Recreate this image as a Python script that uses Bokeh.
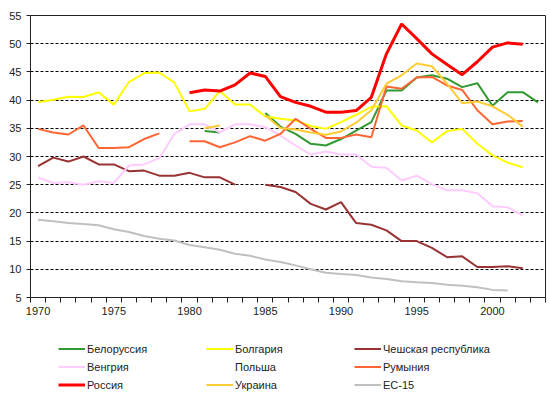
import numpy as np
from bokeh.plotting import figure
from bokeh.layouts import column
from bokeh.models import Range1d, FixedTicker, Legend, LegendItem, ColumnDataSource
from bokeh.embed import file_html
from bokeh.resources import INLINE

nan = np.nan
years = list(range(1970, 2004))

belarus = [nan]*11 + [34.5, 34.25, nan, nan, 37.7, 35.3, 34.0, 32.25, 31.95, 33.1, 34.6, 36.1,
                      41.7, 41.7, 44.0, 44.4, 43.8, 42.3, 43.0, 39.0, 41.4, 41.4, 39.6]
bulgaria = [39.6, 40.05, 40.6, 40.55, 41.4, 39.2, 43.2, 44.8, 44.9, 43.1,
            38.0, 38.45, 41.6, 39.2, 39.2, 37.1, 36.7, 36.4, 35.4, 34.9,
            36.1, 37.4, 38.8, 38.9, 35.5, 34.6, 32.5, 34.5, 34.9, 32.25,
            30.2, 28.9, 28.1, nan]
czech = [28.3, 29.8, 29.1, 30.0, 28.6, 28.6, 27.4, 27.5, 26.6, 26.6,
         27.1, 26.3, 26.3, 25.0, nan, 25.0, 24.6, 23.7, 21.6, 20.6,
         21.9, 18.2, 17.9, 16.9, 15.0, 15.0, 13.8, 12.15, 12.3, 10.4,
         10.4, 10.55, 10.2, nan]
hungary = [26.3, 25.3, 25.45, 25.0, 25.6, 25.3, 28.4, 28.6, 29.7, 34.0,
           35.7, 35.7, 34.3, 35.7, 35.7, 35.2, 33.7, 31.95, 30.35, 30.9,
           30.35, 30.35, 28.2, 28.0, 25.75, 26.6, 25.1, 24.0, 24.0, 23.5,
           21.2, 21.0, 19.55, nan]
poland = [nan]*34
romania = [34.9, 34.25, 33.9, 35.5, 31.5, 31.5, 31.65, 33.1, 34.1, nan,
           32.7, 32.7, 31.65, 32.5, 33.6, 32.8, 34.0, 36.7, 34.9, 33.3,
           33.3, 33.9, 33.4, 42.4, 42.0, 44.0, 44.1, 42.6, 41.8, 38.2,
           35.7, 36.2, 36.3, nan]
russia = [nan]*10 + [41.3, 41.8, 41.6, 42.7, 44.8, 44.2, 40.6, 39.6, 38.9, 37.85,
                     37.85, 38.15, 40.5, 48.2, 53.5, 50.9, 48.2, 46.3, 44.5, 46.8,
                     49.4, 50.15, 49.9, nan]
ukraine = [nan]*11 + [35.0, 35.5, nan, nan, 37.3, 35.05, 34.8, 34.25, 33.85,
                      34.45, 36.0, 38.2, 42.9, 44.4, 46.5, 46.0, 42.9, 39.45, 39.75,
                      38.9, 37.4, 35.3, nan]
eu15 = [18.8, 18.5, 18.2, 18.05, 17.8, 17.1, 16.6, 15.9, 15.4, 15.1,
        14.3, 13.9, 13.45, 12.75, 12.4, 11.75, 11.3, 10.7, 10.0, 9.4,
        9.15, 9.0, 8.55, 8.3, 7.9, 7.7, 7.55, 7.25, 7.1, 6.8,
        6.35, 6.25, nan, nan]

series = [
    ("Белоруссия", belarus, "#339933", 2),
    ("Болгария", bulgaria, "#FFFF00", 2),
    ("Чешская республика", czech, "#993333", 2),
    ("Венгрия", hungary, "#FFCCFF", 2),
    ("Польша", poland, "#FFFFFF", 2),
    ("Румыния", romania, "#FF6633", 2),
    ("Россия", russia, "#FF0000", 3),
    ("Украина", ukraine, "#FFCC33", 2),
    ("ЕС-15", eu15, "#C0C0C0", 2),
]

FONT = "Liberation Sans"
TXT = "#222222"

p = figure(frame_width=515, frame_height=282, output_backend="svg", toolbar_location=None,
           x_range=Range1d(1969.5, 2003.5), y_range=Range1d(5, 55),
           min_border_left=30, min_border_right=5, min_border_top=15, min_border_bottom=22,
           background_fill_color="white", border_fill_color="white")

for name, vals, color, w in series:
    src = ColumnDataSource(dict(x=years, y=vals))
    p.line("x", "y", source=src, line_color=color, line_width=w)

p.outline_line_color = TXT
p.outline_line_width = 1
p.xgrid.visible = False
p.ygrid.grid_line_color = "black"
p.ygrid.grid_line_dash = "3 2"
p.ygrid.grid_line_width = 1

p.xaxis.ticker = FixedTicker(ticks=list(range(1970, 2001, 5)),
                             minor_ticks=[1969.5 + i for i in range(35)])
p.xaxis.major_tick_line_color = None
p.xaxis.major_tick_out = 5
p.xaxis.major_tick_in = 0
p.xaxis.minor_tick_out = 5
p.xaxis.minor_tick_in = 0
p.xaxis.minor_tick_line_color = TXT
p.xaxis.major_label_standoff = 4

p.yaxis.ticker = FixedTicker(ticks=list(range(5, 56, 5)), minor_ticks=[])
p.yaxis.major_tick_out = 4
p.yaxis.major_tick_in = 0
p.yaxis.major_tick_line_color = TXT
p.yaxis.major_label_standoff = 5

for ax in (p.xaxis[0], p.yaxis[0]):
    ax.axis_line_color = TXT
    ax.major_label_text_font = FONT
    ax.major_label_text_font_size = "11px"
    ax.major_label_text_color = TXT

# legend strip below the chart
q = figure(width=550, height=79, output_backend="svg", toolbar_location=None,
           x_range=Range1d(0, 1), y_range=Range1d(0, 1),
           x_axis_type=None, y_axis_type=None,
           min_border_left=0, min_border_right=0, min_border_top=0, min_border_bottom=0,
           background_fill_color="white", border_fill_color="white")
q.outline_line_color = None
q.grid.visible = False
legend_glyphs = {}
for name, vals, color, w in series:
    legend_glyphs[name] = q.line([nan], [nan], line_color=color, line_width=w)

order = ["Белоруссия", "Болгария", "Чешская республика",
         "Венгрия", "Польша", "Румыния",
         "Россия", "Украина", "ЕС-15"]
leg = Legend(items=[LegendItem(label=n, renderers=[legend_glyphs[n]]) for n in order],
             location=(28, 5), orientation="horizontal", ncols=3,
             glyph_width=27, glyph_height=17, label_height=17, label_width=118,
             spacing=1, padding=0, margin=0, label_standoff=2,
             border_line_color=None, background_fill_alpha=0,
             label_text_font=FONT, label_text_font_size="11px",
             label_text_color=TXT)
q.add_layout(leg)

layout = column(p, q, spacing=0)
open("out.html", "w").write(file_html(layout, INLINE))
